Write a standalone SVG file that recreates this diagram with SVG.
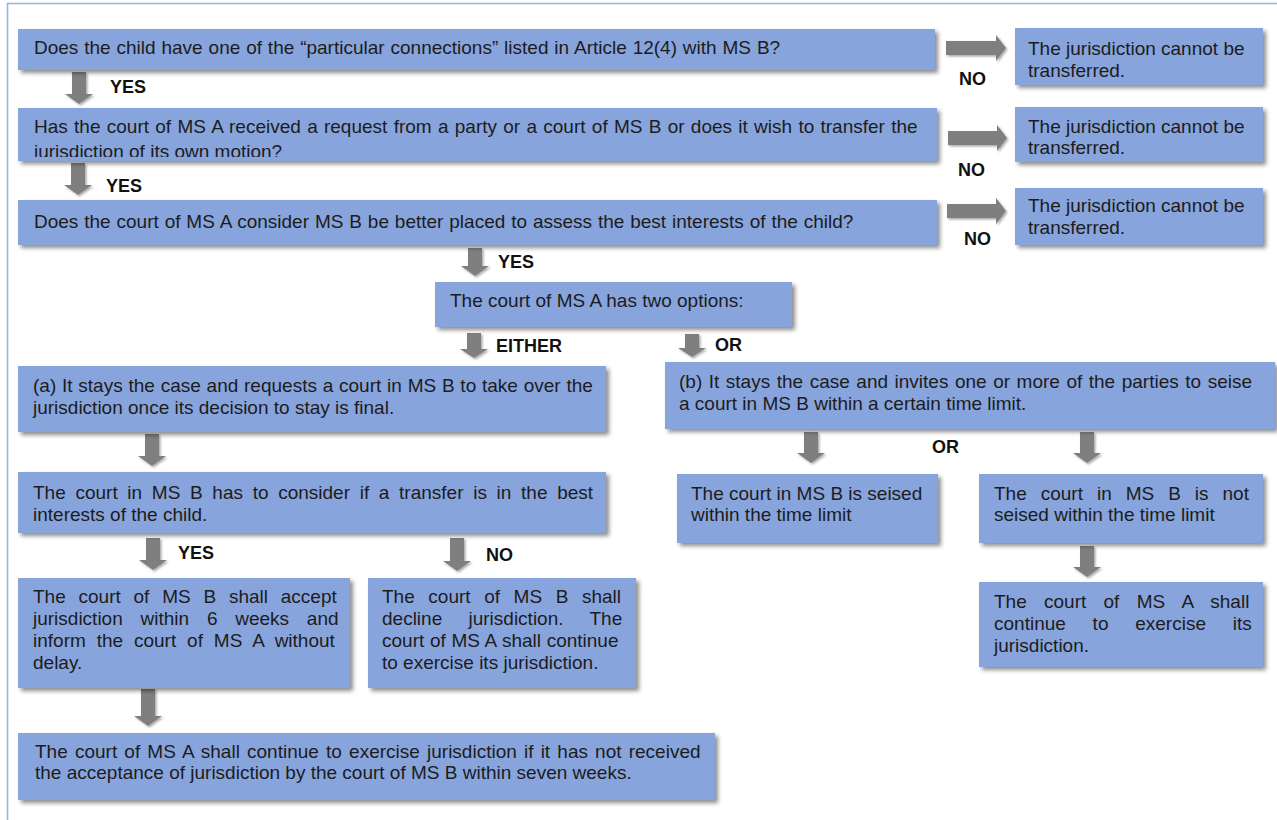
<svg xmlns="http://www.w3.org/2000/svg" width="1277" height="820" viewBox="0 0 1277 820">
  <defs>
    <filter id="shadow" x="-5%" y="-10%" width="115%" height="130%">
      <feDropShadow dx="3" dy="3" stdDeviation="2" flood-color="#000" flood-opacity="0.45"/>
    </filter>
    <filter id="ashadow" x="-20%" y="-20%" width="150%" height="150%">
      <feDropShadow dx="1.5" dy="1.5" stdDeviation="1.2" flood-color="#000" flood-opacity="0.35"/>
    </filter>
    <clipPath id="clipQ2">
      <rect x="18" y="108" width="919" height="49"/>
    </clipPath>
  </defs>
  <style>
    .box { fill: #88a4dc; filter: url(#shadow); }
    .t { font-family: "Liberation Sans", Arial, sans-serif; font-size: 19px; fill: #1c1c1c; }
    .lbl { font-family: "Liberation Sans", Arial, sans-serif; font-size: 18px; font-weight: bold; fill: #111; }
    .arrow { fill: #7f7f7f; filter: url(#ashadow); }
  </style>

  <rect width="1277" height="820" fill="#ffffff"/>
  <!-- outer frame -->
  <rect x="7.5" y="3.5" width="1290" height="840" fill="none" stroke="#9ab5e3" stroke-width="1.6"/>

  <!-- connectors -->
  <g id="connectors">
    <!-- right-pointing NO arrows -->
    <path class="arrow" d="M946,41 H996 V35 L1006,48 L996,61 V55 H946 Z"/>
    <path class="arrow" d="M948,131 H997 V125 L1007,138 L997,151 V145 H948 Z"/>
    <path class="arrow" d="M947,204 H996 V198 L1006,211 L996,224 V218 H947 Z"/>
    <!-- downward arrows -->
    <path class="arrow" d="M72,72 H86 V94 H93 L79,104 L65,94 H72 Z"/>
    <path class="arrow" d="M71,163 H85 V185 H92 L78,195 L64,185 H71 Z"/>
    <path class="arrow" d="M468,248 H482 V266 H489 L475,276 L461,266 H468 Z"/>
    <path class="arrow" d="M467,333 H481 V349 H488 L474,358 L460,349 H467 Z"/>
    <path class="arrow" d="M685,334 H699 V348 H706 L692,357 L678,348 H685 Z"/>
    <path class="arrow" d="M145,434 H159 V456 H166 L152,466 L138,456 H145 Z"/>
    <path class="arrow" d="M146,538 H160 V560 H167 L153,570 L139,560 H146 Z"/>
    <path class="arrow" d="M450,538 H464 V561 H471 L457,571 L443,561 H450 Z"/>
    <path class="arrow" d="M141,689 H155 V716 H162 L148,726 L134,716 H141 Z"/>
    <path class="arrow" d="M804,432 H818 V453 H825 L811,463 L797,453 H804 Z"/>
    <path class="arrow" d="M1080,432 H1094 V453 H1101 L1087,463 L1073,453 H1080 Z"/>
    <path class="arrow" d="M1080,546 H1094 V567 H1101 L1087,577 L1073,567 H1080 Z"/>
    <!-- connector labels -->
    <text class="lbl" x="110" y="93">YES</text>
    <text class="lbl" x="106" y="192">YES</text>
    <text class="lbl" x="498" y="268">YES</text>
    <text class="lbl" x="496" y="352">EITHER</text>
    <text class="lbl" x="715" y="351">OR</text>
    <text class="lbl" x="959" y="85">NO</text>
    <text class="lbl" x="958" y="176">NO</text>
    <text class="lbl" x="964" y="245">NO</text>
    <text class="lbl" x="178" y="559">YES</text>
    <text class="lbl" x="486" y="561">NO</text>
    <text class="lbl" x="932" y="453">OR</text>
  </g>

  <!-- question 1 -->
  <g id="q1">
    <rect class="box" x="18" y="29" width="917" height="41"/>
    <text class="t" x="34" y="54" word-spacing="0.6">Does the child have one of the “particular connections” listed in Article 12(4) with MS B?</text>
  </g>
  <g id="no1">
    <rect class="box" x="1015" y="28" width="248" height="57"/>
    <text class="t" x="1028" y="55">The jurisdiction cannot be</text>
    <text class="t" x="1028" y="77">transferred.</text>
  </g>

  <!-- question 2 (second line runs past the box edge) -->
  <g id="q2">
    <rect class="box" x="18" y="108" width="919" height="53"/>
    <g clip-path="url(#clipQ2)">
      <text class="t" x="34" y="133" word-spacing="1">Has the court of MS A received a request from a party or a court of MS B or does it wish to transfer the</text>
      <text class="t" x="34" y="158">jurisdiction of its own motion?</text>
    </g>
  </g>
  <g id="no2">
    <rect class="box" x="1015" y="107" width="248" height="55"/>
    <text class="t" x="1028" y="133">The jurisdiction cannot be</text>
    <text class="t" x="1028" y="154">transferred.</text>
  </g>

  <!-- question 3 -->
  <g id="q3">
    <rect class="box" x="18" y="200" width="919" height="45"/>
    <text class="t" x="34" y="228" word-spacing="0.6">Does the court of MS A consider MS B be better placed to assess the best interests of the child?</text>
  </g>
  <g id="no3">
    <rect class="box" x="1015" y="188" width="248" height="57"/>
    <text class="t" x="1028" y="212">The jurisdiction cannot be</text>
    <text class="t" x="1028" y="234">transferred.</text>
  </g>

  <!-- options -->
  <g id="options">
    <rect class="box" x="435" y="282" width="357" height="45"/>
    <text class="t" x="450" y="307">The court of MS A has two options:</text>
  </g>

  <!-- option (a) branch -->
  <g id="optA">
    <rect class="box" x="18" y="366" width="588" height="66"/>
    <text class="t" x="33" y="392" word-spacing="0.5">(a) It stays the case and requests a court in MS B to take over the</text>
    <text class="t" x="33" y="414">jurisdiction once its decision to stay is final.</text>
  </g>
  <g id="considerB">
    <rect class="box" x="18" y="472" width="588" height="61"/>
    <text class="t" x="33" y="499" word-spacing="4.4">The court in MS B has to consider if a transfer is in the best</text>
    <text class="t" x="33" y="521">interests of the child.</text>
  </g>
  <g id="acceptB">
    <rect class="box" x="18" y="578" width="332" height="110"/>
    <text class="t" x="33" y="603" word-spacing="7.5">The court of MS B shall accept</text>
    <text class="t" x="33" y="625" word-spacing="12.5">jurisdiction within 6 weeks and</text>
    <text class="t" x="33" y="647" word-spacing="5.6">inform the court of MS A without</text>
    <text class="t" x="33" y="669">delay.</text>
  </g>
  <g id="declineB">
    <rect class="box" x="368" y="578" width="268" height="110"/>
    <text class="t" x="382" y="603" word-spacing="8.3">The court of MS B shall</text>
    <text class="t" x="382" y="625" word-spacing="21">decline jurisdiction. The</text>
    <text class="t" x="382" y="647" word-spacing="0.4">court of MS A shall continue</text>
    <text class="t" x="382" y="669">to exercise its jurisdiction.</text>
  </g>
  <g id="sevenWeeks">
    <rect class="box" x="18" y="733" width="697" height="67"/>
    <text class="t" x="35" y="758" word-spacing="1.9">The court of MS A shall continue to exercise jurisdiction if it has not received</text>
    <text class="t" x="35" y="779">the acceptance of jurisdiction by the court of MS B within seven weeks.</text>
  </g>

  <!-- option (b) branch -->
  <g id="optB">
    <rect class="box" x="665" y="362" width="610" height="67"/>
    <text class="t" x="679" y="388" word-spacing="1.25">(b) It stays the case and invites one or more of the parties to seise</text>
    <text class="t" x="679" y="410">a court in MS B within a certain time limit.</text>
  </g>
  <g id="seised">
    <rect class="box" x="677" y="474" width="261" height="69"/>
    <text class="t" x="691" y="500">The court in MS B is seised</text>
    <text class="t" x="691" y="521">within the time limit</text>
  </g>
  <g id="notSeised">
    <rect class="box" x="979" y="474" width="284" height="69"/>
    <text class="t" x="994" y="500" word-spacing="8.7">The court in MS B is not</text>
    <text class="t" x="994" y="521">seised within the time limit</text>
  </g>
  <g id="continueA">
    <rect class="box" x="979" y="582" width="284" height="85"/>
    <text class="t" x="994" y="608" word-spacing="12">The court of MS A shall</text>
    <text class="t" x="994" y="630" word-spacing="21.5">continue to exercise its</text>
    <text class="t" x="994" y="652">jurisdiction.</text>
  </g>
</svg>
